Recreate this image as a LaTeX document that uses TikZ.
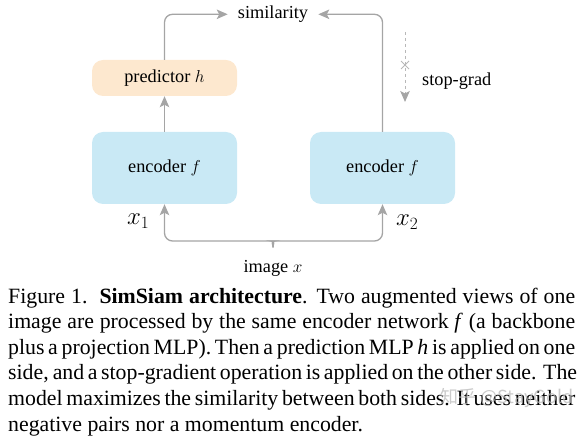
\documentclass[tikz,border=0pt]{standalone}
\usepackage{fontspec}
\setmainfont{Liberation Serif}
\newfontfamily\cjkfont{Noto Sans CJK SC}
\usetikzlibrary{arrows.meta}
\definecolor{encblue}{HTML}{C9E9F5}
\definecolor{predorange}{HTML}{FDE8CF}
\definecolor{linegray}{HTML}{A5A5A5}
\definecolor{dashgray}{HTML}{B8B8B8}
\begin{document}
\begin{tikzpicture}[x=1bp,y=-1bp,
  dfont/.style={font=\fontsize{18.3bp}{22bp}\selectfont},
  basebox/.style={dfont, rounded corners=11bp, minimum width=145bp, inner sep=0pt, draw=none},
  encbox/.style={basebox, fill=encblue, minimum height=72bp},
  predbox/.style={basebox, fill=predorange, minimum height=36bp},
  conn/.style={draw=linegray, line width=1.3bp, -{Stealth[length=11bp,width=9.5bp,inset=2.5bp]}, rounded corners=8bp},
  lbl/.style={dfont, inner sep=0pt},
  xlbl/.style={inner sep=0pt, anchor=base west, font=\fontsize{23bp}{26bp}\selectfont},
  captxt/.style={anchor=base west, inner sep=0pt, font=\fontsize{21.8bp}{25.6bp}\selectfont},
  wmark/.style={text=gray!55, opacity=0.75, inner sep=0pt, font=\fontsize{18bp}{20bp}\selectfont\cjkfont}
]
\useasboundingbox (0,0) rectangle (585,439);

% boxes
\node[encbox] (e1) at (164.5,168) {encoder $f$};
\node[encbox] (e2) at (382.5,168) {encoder $f$};
\node[predbox] (p) at (164.5,78) {predictor $h$};
\node[lbl, inner xsep=10bp] (sim) at (273,14.3) {similarity};

% upper connectors
\draw[conn] (e1.north) -- (p.south);
\draw[conn] (p.north) |- (sim.west);
\draw[conn] (e2.north) |- (sim.east);

% stop-grad
\coordinate (sgtop) at (405,32);
\coordinate (sgbot) at (405,102);
\coordinate (sgx) at (405,65);
\draw[conn, draw=dashgray, dash pattern=on 3.5bp off 2.5bp, line width=1bp,
      -{Stealth[length=11bp,width=9.5bp,inset=2.5bp,linegray,fill=linegray,sep=0pt]}] (sgtop) -- (sgbot);
\draw[draw=dashgray, line width=1bp] ([shift={(-4,-4)}]sgx) -- ([shift={(4,4)}]sgx)
  ([shift={(-4,4)}]sgx) -- ([shift={(4,-4)}]sgx);
\node[lbl, anchor=base west] (sg) at (422,86) {stop-grad};

% bottom brace and inputs
\coordinate (brace) at (273,247.5);
\draw[conn] (brace) to[out=90,in=0] ++(-6,-6.5) -| (e1.south);
\draw[conn] (brace) to[out=90,in=180] ++(6,-6.5) -| (e2.south);
\node[xlbl] (x1) at (127,225) {$x_1$};
\node[xlbl] (x2) at (396,226) {$x_2$};
\node[lbl, anchor=base] (img) at (273,273) {image $x$};

% caption
\node[captxt] (c1) at (8,303) {\makebox[567bp][s]{Figure 1.\ \ \textbf{SimSiam architecture}. Two augmented views of one}};
\node[captxt] (c2) at (8,328.6) {\makebox[567bp][s]{image are processed by the same encoder network \textit{f} (a backbone}};
\node[captxt] (c3) at (8,354.2) {\makebox[567bp][s]{plus a projection MLP). Then a prediction MLP \textit{h} is applied on one}};
\node[captxt] (c4) at (8,379.8) {\makebox[567bp][s]{side, and a stop-gradient operation is applied on the other side. The}};
\node[captxt] (c5) at (8,405.4) {\makebox[567bp][s]{model maximizes the similarity between both sides. It uses neither}};
\node[captxt] (c6) at (8,431) {negative pairs nor a momentum encoder.};

% watermark
\node[wmark] (wm) at (507,398) {知乎 @StayGold};
\end{tikzpicture}
\end{document}
